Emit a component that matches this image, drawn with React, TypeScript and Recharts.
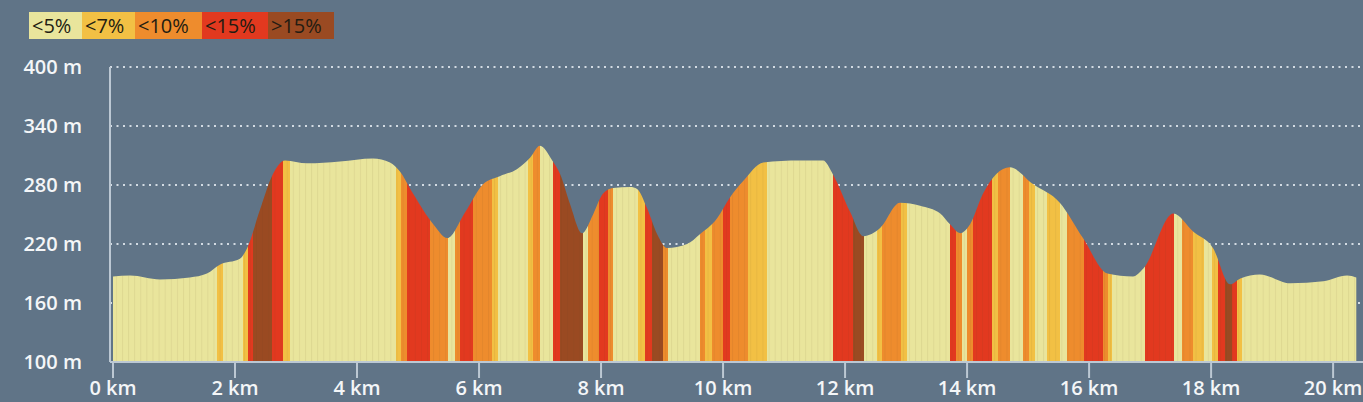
import React from 'react';
import { AreaChart, Area, XAxis, YAxis, CartesianGrid } from 'recharts';

// Route profile: distance (km) and elevation (m)
const distanceKm = [
  0, 0.28, 0.77, 1.26, 1.54, 1.75, 2.08, 2.2, 2.41, 2.62, 2.82, 3.18, 3.72, 4.26, 4.54, 4.7,
  4.92, 5.25, 5.48, 5.77, 6.07, 6.34, 6.62, 6.84, 7.0, 7.2, 7.33, 7.49, 7.69, 7.87, 8.03, 8.2,
  8.48, 8.59, 8.75, 8.92, 9.08, 9.41, 9.62, 9.9, 10.11, 10.33, 10.66, 11.26, 11.64, 11.8, 12.08,
  12.3, 12.57, 12.9, 13.23, 13.56, 13.72, 13.89, 14.05, 14.26, 14.7, 15.08, 15.52, 15.9, 16.3,
  16.72, 16.89, 17.38, 17.7, 18.03, 18.31, 18.48, 18.8, 19.3, 19.84, 20.23, 20.38,
];
const elevationM = [
  187, 188, 184, 186, 190, 199, 205, 216, 255, 291, 305, 302, 304, 307, 303, 294,
  271, 240, 226, 252, 281, 289, 296, 308, 320, 305, 291, 261, 231, 250, 271, 277,
  278, 276, 257, 230, 216, 220, 230, 246, 267, 284, 303, 305, 305, 291, 253,
  228, 236, 262, 259, 251, 240, 231, 240, 271, 298, 281, 262, 226, 190,
  187, 195, 251, 233, 216, 179, 185, 189, 180, 182, 188, 186,
];

// Gradient classes
const gradeLabels = ['<5%', '<7%', '<10%', '<15%', '>15%'];
const gradeColors = ['#e9e59c', '#f2c044', '#ee8c2d', '#e2391f', '#9a4a22'];

// Each stretch: where it ends (km) and its gradient class
const segmentEndKm = [
  1.7, 1.8, 2.13, 2.21, 2.3, 2.61, 2.79, 2.9, 4.64, 4.72, 4.82, 5.2, 5.49, 5.61, 5.69, 5.9,
  6.21, 6.31, 6.8, 6.89, 7.0, 7.21, 7.33, 7.7, 7.79, 7.97, 8.11, 8.2, 8.61, 8.72, 8.84, 9.02,
  9.1, 9.62, 9.7, 9.82, 10.0, 10.11, 10.41, 10.72, 11.8, 12.13, 12.31, 12.52, 12.61, 12.92,
  13.02, 13.72, 13.82, 13.92, 14.0, 14.1, 14.41, 14.51, 14.7, 14.92, 15.02, 15.11, 15.31,
  15.52, 15.64, 15.92, 16.23, 16.31, 16.38, 16.92, 17.39, 17.52, 17.7, 17.89, 18.02, 18.11,
  18.23, 18.34, 18.43, 18.51, 20.38,
];
const segmentGrade = [
  0, 1, 0, 1, 3, 4, 3, 1, 0, 1, 2, 3, 2, 0, 2, 3,
  2, 1, 0, 1, 2, 0, 3, 4, 0, 2, 3, 2, 0, 1, 3, 4,
  2, 0, 2, 1, 2, 3, 2, 1, 0, 3, 4, 0, 1, 2,
  1, 0, 3, 2, 0, 2, 3, 1, 2, 0, 2, 1, 0,
  1, 0, 2, 3, 2, 1, 0, 3, 0, 2, 1, 0, 1,
  3, 4, 3, 1, 0,
];

const xTicks = [0, 2, 4, 6, 8, 10, 12, 14, 16, 18, 20];
const yTicks = [100, 160, 220, 280, 340, 400];

const data = distanceKm.map((km, i) => ({ km, ele: elevationM[i] }));
const totalKm = distanceKm[distanceKm.length - 1];

const gradeStops = segmentEndKm.flatMap((end, i) => {
  const start = i === 0 ? 0 : segmentEndKm[i - 1];
  const color = gradeColors[segmentGrade[i]];
  return [
    { offset: start / totalKm, color },
    { offset: end / totalKm, color },
  ];
});

const BG = '#607487';
const AXIS = '#bcc8d3';
const LABEL_FONT = '"Open Sans", sans-serif';
const legendWidths = [53, 53, 67, 66, 66];

export default function App() {
  return (
    <div
      style={{
        position: 'absolute',
        left: 0,
        top: 0,
        width: 1363,
        height: 402,
        background: BG,
        overflow: 'hidden',
      }}
    >
      {/* grade legend */}
      <div
        style={{
          position: 'absolute',
          left: 29,
          top: 12,
          display: 'flex',
          zIndex: 2,
          fontFamily: LABEL_FONT,
          fontSize: 20,
          lineHeight: '27px',
          color: '#231c12',
        }}
      >
        {gradeLabels.map((label, i) => (
          <div
            key={label}
            style={{
              background: gradeColors[i],
              width: legendWidths[i],
              boxSizing: 'border-box',
              paddingLeft: 3,
              height: 27,
              whiteSpace: 'nowrap',
            }}
          >
            {label}
          </div>
        ))}
      </div>

      <AreaChart
        width={1363}
        height={402}
        data={data}
        margin={{ top: 67, right: 0, bottom: 0, left: 0 }}
      >
        <defs>
          <linearGradient id="gradeFill" x1="0" y1="0" x2="1" y2="0">
            {gradeStops.map((s, i) => (
              <stop key={i} offset={s.offset} stopColor={s.color} />
            ))}
          </linearGradient>
          <pattern id="columns" width={6.1} height={10} patternUnits="userSpaceOnUse">
            <rect x={0} y={0} width={1} height={10} fill="rgba(90,70,20,0.08)" />
          </pattern>
        </defs>

        <CartesianGrid
          vertical={false}
          stroke="#d3dbe3"
          strokeWidth={2}
          strokeDasharray="2 4.5"
        />

        <XAxis
          type="number"
          dataKey="km"
          domain={[0, 20.49]}
          ticks={xTicks}
          interval={0}
          allowDataOverflow
          padding={{ left: 3, right: 0 }}
          height={40}
          tickSize={16}
          tickMargin={3}
          tickFormatter={(v: number) => `${v} km`}
          tick={{ fill: '#f4f6f8', fontSize: 20, fontWeight: 600, fontFamily: LABEL_FONT }}
          axisLine={{ stroke: AXIS, strokeWidth: 2 }}
          tickLine={{ stroke: AXIS, strokeWidth: 2 }}
        />
        <YAxis
          type="number"
          domain={[100, 400]}
          ticks={yTicks}
          interval={0}
          width={110}
          tickLine={false}
          tickMargin={22}
          tickFormatter={(v: number) => `${v} m`}
          tick={{ fill: '#f4f6f8', fontSize: 20, fontWeight: 600, fontFamily: LABEL_FONT }}
          axisLine={{ stroke: AXIS, strokeWidth: 2 }}
        />

        <Area
          type="monotone"
          dataKey="ele"
          stroke="none"
          fill="url(#gradeFill)"
          fillOpacity={1}
          baseValue={100}
          isAnimationActive={false}
          dot={false}
          activeDot={false}
        />
        <Area
          type="monotone"
          dataKey="ele"
          stroke="none"
          fill="url(#columns)"
          fillOpacity={1}
          baseValue={100}
          isAnimationActive={false}
          dot={false}
          activeDot={false}
        />
      </AreaChart>
    </div>
  );
}
